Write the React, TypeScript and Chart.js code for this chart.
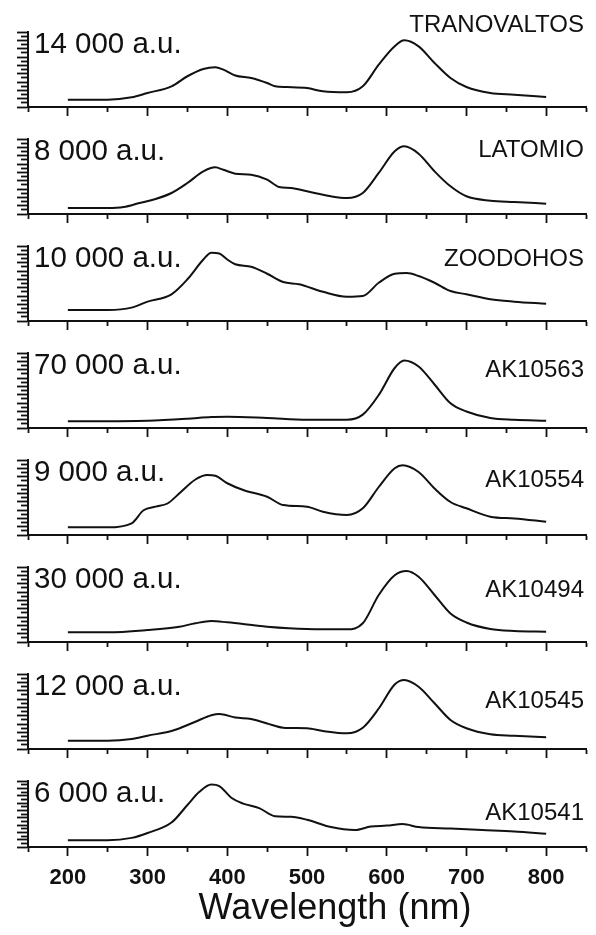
import React, { useEffect, useRef } from 'react';
import { Chart, registerables } from 'chart.js';

Chart.register(...registerables);

// ---------- data ----------
const xAxisMin = 150;
const xAxisMax = 850;
const xTickValues = [200, 300, 400, 500, 600, 700, 800];
const xTickLabels = ['200', '300', '400', '500', '600', '700', '800'];
const xAxisTitle = 'Wavelength (nm)';

const scaleLabels = ['14 000 a.u.', '8 000 a.u.', '10 000 a.u.', '70 000 a.u.', '9 000 a.u.', '30 000 a.u.', '12 000 a.u.', '6 000 a.u.'];
const sampleNames = ['TRANOVALTOS', 'LATOMIO', 'ZOODOHOS', 'AK10563', 'AK10554', 'AK10494', 'AK10545', 'AK10541'];

// relative intensity (% of panel full scale)
const wlTranovaltos = [200, 250, 280, 300, 330, 350, 370, 385, 395, 410, 430, 450, 460, 475, 500, 520, 550, 570, 590, 610, 622, 640, 660, 680, 700, 730, 760, 800];
const tranovaltos = [9.8, 9.8, 12.9, 18.7, 27.6, 41, 50.7, 52.9, 49.8, 42, 38.7, 32, 27.6, 26.7, 25.3, 20.9, 19.6, 27.6, 56.4, 80.9, 88.9, 80.9, 58.7, 38.7, 26.7, 18.7, 16.4, 13.3];

const wlLatomio = [200, 250, 270, 290, 310, 330, 350, 370, 385, 395, 410, 430, 450, 465, 480, 500, 530, 550, 570, 590, 610, 622, 640, 660, 680, 700, 730, 760, 800];
const latomio = [8, 8, 9.3, 14.7, 20, 28, 41.3, 56.9, 62.2, 59, 53.8, 52.4, 45.8, 36, 34.7, 30.2, 23.6, 21.3, 28, 54.7, 83.6, 90.2, 80.4, 56.9, 36.9, 23.6, 17.8, 16, 13.8];

const wlZoodohos = [200, 250, 280, 300, 330, 350, 370, 380, 390, 400, 410, 430, 450, 470, 490, 520, 550, 570, 590, 610, 625, 640, 660, 680, 700, 730, 760, 800];
const zoodohos = [14.7, 14.7, 17.8, 25.8, 35.6, 55.6, 82, 91, 90, 82, 75.6, 72.4, 63, 52, 49, 39, 32.4, 33.3, 51, 63, 64, 60, 51, 40, 35.6, 29, 25.8, 23];

const wlAK10563 = [200, 300, 350, 380, 400, 450, 500, 550, 570, 590, 610, 622, 640, 660, 680, 700, 730, 760, 800];
const ak10563 = [8.9, 9.8, 12.4, 14.7, 15, 13.3, 11, 11, 17.8, 44, 80, 90, 82, 58, 33, 22, 13.3, 11, 9.8];

const wlAK10554 = [200, 250, 280, 295, 310, 325, 340, 360, 375, 385, 400, 420, 450, 470, 500, 520, 550, 570, 590, 610, 620, 640, 660, 680, 700, 730, 760, 800];
const ak10554 = [10.2, 10.2, 15.6, 33, 37.8, 42, 55.6, 74, 80, 79, 69, 60, 51, 40, 37.8, 31, 26.7, 35.6, 64, 89, 93, 84, 62, 44, 35.6, 24.4, 22, 17.8];

const wlAK10494 = [200, 250, 300, 340, 360, 380, 400, 450, 500, 550, 570, 590, 610, 625, 640, 660, 680, 700, 730, 760, 800];
const ak10494 = [12.9, 12.9, 16, 20.4, 25, 28, 26.2, 20.4, 17.3, 16.9, 25, 62.7, 89, 94.7, 87, 62.7, 38, 26, 17.3, 14.7, 13.8];

const wlAK10545 = [200, 250, 280, 300, 330, 360, 380, 390, 410, 430, 450, 470, 500, 520, 550, 570, 590, 610, 622, 640, 660, 680, 700, 730, 760, 800];
const ak10545 = [11, 11, 13.3, 17.8, 24, 36.4, 45, 46.7, 42, 40, 34, 28.4, 27.6, 24, 20.9, 28.4, 54, 86, 92, 83, 61, 38.7, 27.6, 19.6, 17.8, 15.6];

const wlAK10541 = [200, 250, 280, 300, 330, 350, 365, 380, 390, 405, 420, 440, 460, 480, 500, 530, 560, 580, 600, 620, 640, 680, 720, 760, 800];
const ak10541 = [10.2, 10.2, 13.8, 21.3, 37, 63.6, 83.6, 94.7, 92.4, 74.7, 65.8, 59, 46.7, 45.8, 41.3, 30.2, 25.8, 31, 32.4, 34.7, 30.2, 28, 25.8, 23.6, 20];

const seriesX = [wlTranovaltos, wlLatomio, wlZoodohos, wlAK10563, wlAK10554, wlAK10494, wlAK10545, wlAK10541];
const seriesY = [tranovaltos, latomio, zoodohos, ak10563, ak10554, ak10494, ak10545, ak10541];

// ---------- layout ----------
const W = 596;
const H = 935;
const PANEL_STEP = 107;
const PANEL_CANVAS_H = 120;
const LAST_CANVAS_H = 186;
const FONT = '"Liberation Sans", Arial, Helvetica, sans-serif';
const nameBaselineOffsets = [0, 18, 20, 24, 27, 30, 34, 39];

Chart.defaults.font.family = FONT;

function makeLabelPlugin(i: number, isLast: boolean) {
  return {
    id: 'panelLabels' + i,
    afterDraw(chart: any) {
      const { ctx, chartArea } = chart;
      ctx.save();
      ctx.fillStyle = '#111';
      ctx.textBaseline = 'alphabetic';
      ctx.font = `29.5px ${FONT}`;
      ctx.textAlign = 'left';
      ctx.fillText(scaleLabels[i], chartArea.left + 6, chartArea.top + 21);
      ctx.font = `24px ${FONT}`;
      ctx.textAlign = 'right';
      ctx.fillText(sampleNames[i], 584, chartArea.top + nameBaselineOffsets[i]);
      if (isLast) {
        ctx.font = `36px ${FONT}`;
        ctx.textAlign = 'center';
        ctx.fillText(xAxisTitle, 335, chartArea.bottom + 72);
      }
      ctx.restore();
    },
  };
}

function Panel({ index }: { index: number }) {
  const ref = useRef<HTMLCanvasElement | null>(null);
  const isLast = index === seriesX.length - 1;
  const canvasH = isLast ? LAST_CANVAS_H : PANEL_CANVAS_H;

  useEffect(() => {
    if (!ref.current) return;
    const xs = seriesX[index];
    const ys = seriesY[index];
    const data = xs.map((x, k) => ({ x, y: ys[k] }));
    const chart = new Chart(ref.current, {
      type: 'line',
      data: {
        datasets: [
          {
            data,
            borderColor: '#111',
            borderWidth: 2,
            pointRadius: 0,
            fill: false,
            cubicInterpolationMode: 'monotone',
          },
        ],
      },
      options: {
        animation: false,
        responsive: false,
        devicePixelRatio: 1,
        events: [],
        layout: { padding: { top: 32, left: 17, right: 10, bottom: isLast ? 34.6 : 4 } },
        plugins: { legend: { display: false }, tooltip: { enabled: false }, title: { display: false } },
        scales: {
          x: {
            type: 'linear',
            min: xAxisMin,
            max: xAxisMax,
            border: { display: true, width: 2, color: '#111' },
            grid: {
              display: true,
              drawOnChartArea: false,
              drawTicks: true,
              tickLength: 9,
              tickWidth: 1.8,
              tickColor: '#111',
              tickBorderDash: (c: any) => (c.tick && c.tick.value % 100 === 0 ? [] : [4, 100]),
            },
            ticks: {
              display: isLast,
              stepSize: 50,
              autoSkip: false,
              maxRotation: 0,
              minRotation: 0,
              padding: 9,
              color: '#111',
              font: { size: 22, weight: 'bold', family: FONT },
              callback: (v: any) => {
                const k = xTickValues.indexOf(Number(v));
                return k >= 0 ? xTickLabels[k] : '';
              },
            },
          },
          y: {
            type: 'linear',
            min: 0,
            max: 100,
            border: { display: true, width: 2, color: '#111' },
            grid: {
              display: true,
              drawOnChartArea: false,
              drawTicks: true,
              tickLength: 11,
              tickWidth: 1.8,
              tickColor: '#111',
              tickBorderDash: (c: any) => (c.index % 2 === 0 ? [] : [6, 100]),
              tickBorderDashOffset: (c: any) => (c.index % 2 === 0 ? 0 : 102),
            },
            ticks: { display: false, stepSize: 100 / 18 },
          },
        },
      },
      plugins: [makeLabelPlugin(index, isLast)],
    } as any);
    return () => chart.destroy();
  }, [index]);

  return (
    <canvas
      ref={ref}
      width={W}
      height={canvasH}
      style={{ position: 'absolute', left: 0, top: index * PANEL_STEP, width: W, height: canvasH }}
    />
  );
}

export default function App() {
  return (
    <div style={{ position: 'absolute', left: 0, top: 0, width: W, height: H, background: '#fff', overflow: 'hidden' }}>
      {seriesX.map((_, i) => (
        <Panel key={i} index={i} />
      ))}
    </div>
  );
}
